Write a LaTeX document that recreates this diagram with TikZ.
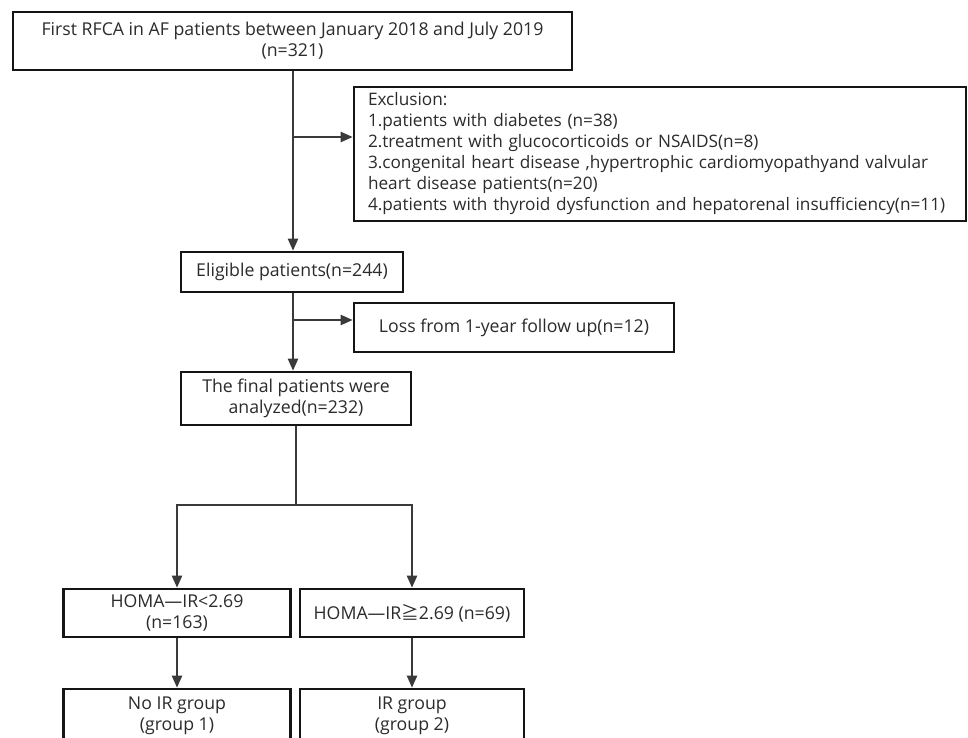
\documentclass[tikz,border=0pt]{standalone}
\usepackage{fontspec}
\setmainfont{Open Sans}
\newfontfamily\cjkf{Noto Sans CJK SC}
\usetikzlibrary{arrows.meta}
\definecolor{txt}{HTML}{2B2B2B}
\definecolor{ln}{HTML}{3A3A3A}
\definecolor{bd}{HTML}{151515}
\hyphenpenalty=10000
\begin{document}
\begin{tikzpicture}[x=1pt,y=-1pt,
  box/.style={draw=bd, line width=2.6pt, fill=white, inner sep=0pt, align=center,
    text=txt, font=\fontsize{17.7}{21}\selectfont},
  conn/.style={draw=ln, line width=2.2pt},
  arr/.style={conn, -{Triangle[length=12pt,width=10pt]}}]
\useasboundingbox (0,0) rectangle (968,738);
\clip (0,0) rectangle (968,738);
\fill[white] (0,0) rectangle (968,738);

\node[box, minimum width=559pt, minimum height=58pt] (top) at (292.5,41)
  {First RFCA in AF patients between January 2018 and July 2019\\(n=321)};
\node[box, minimum height=134pt, text width=584pt, inner xsep=14pt, align=left,
      font=\fontsize{17.2}{21}\selectfont] (excl) at (660,154)
  {Exclusion:\\
   1.patients with diabetes (n=38)\\
   2.treatment with glucocorticoids or NSAIDS(n=8)\\
   3.congenital heart disease ,hypertrophic cardiomyopathyand valvular\\
   heart disease patients(n=20)\\
   4.patients with thyroid dysfunction and hepatorenal insufficiency(n=11)};
\node[box, minimum width=222pt, minimum height=40pt] (elig) at (292,272)
  {Eligible patients(n=244)};
\node[box, minimum width=320pt, minimum height=49pt] (loss) at (514,327.5)
  {Loss from 1-year follow up(n=12)};
\node[box, minimum width=230pt, minimum height=53pt] (final) at (296,398.5)
  {The final patients were\\analyzed(n=232)};
\node[box, minimum width=227pt, minimum height=48pt] (h1) at (177,613)
  {HOMA—IR<2.69\\(n=163)};
\node[box, minimum width=224pt, minimum height=48pt] (h2) at (412,613)
  {HOMA—IR{\cjkf ≧}2.69 (n=69)};
\node[box, minimum width=227pt, minimum height=54pt] (g1) at (177,716)
  {No IR group\\(group 1)};
\node[box, minimum width=224pt, minimum height=54pt] (g2) at (412,716)
  {IR group\\(group 2)};

\coordinate (b1) at (293,137);
\coordinate (b2) at (293,320);
\coordinate (split) at (296,505);

\draw[arr] (top.south -| b1) -- (b1 |- elig.north);
\draw[arr] (b1) -- (b1 -| excl.west);
\draw[arr] (elig.south -| b2) -- (b2 |- final.north);
\draw[arr] (b2) -- (b2 -| loss.west);
\draw[conn] (final.south) -- (split);
\draw[arr] (split) -| (h1.north);
\draw[arr] (split) -| (h2.north);
\draw[arr] (h1.south) -- (g1.north);
\draw[arr] (h2.south) -- (g2.north);
\end{tikzpicture}
\end{document}
